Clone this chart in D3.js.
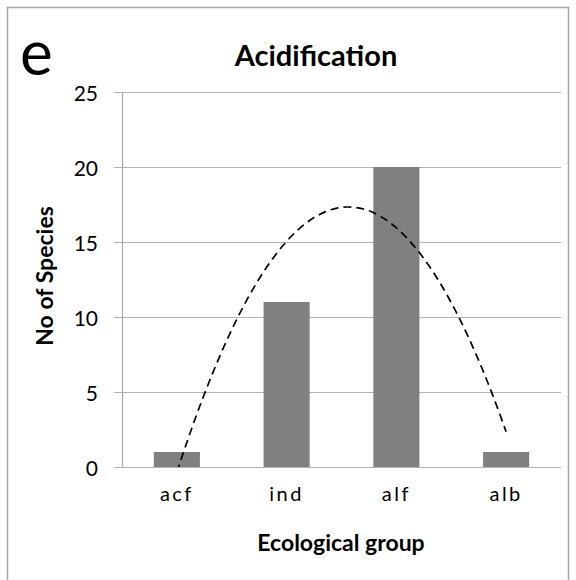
<!DOCTYPE html>
<html>
<head>
<meta charset="utf-8">
<script src="https://cdn.jsdelivr.net/npm/d3@7"></script>
<style>
  body { margin: 0; background: #fff; }
  text { font-family: Lato, "Open Sans", sans-serif; }
</style>
</head>
<body>
<div id="chart"></div>
<script>
let groups = ["acf", "ind", "alf", "alb"]
let species = [1, 11, 20, 1]
let yTicks = [0, 5, 10, 15, 20, 25]

let width = 576,
    height = 580,
    margin = { top: 92, right: 15, bottom: 113, left: 122 }

let svg = d3.select("#chart").append("svg")
  .attr("width", width)
  .attr("height", height)

// outer frame of the panel
svg.append("rect")
  .attr("x", 7.5).attr("y", 7.5)
  .attr("width", 561).attr("height", 620)
  .attr("fill", "none")
  .attr("stroke", "#a6a6a6")
  .attr("stroke-width", 1.5)

let x = d3.scaleBand()
  .domain(groups)
  .range([margin.left, width - margin.right])
  .paddingInner(0.58)
  .paddingOuter(0.29)

let y = d3.scaleLinear()
  .domain([0, 25])
  .range([height - margin.bottom, margin.top])

// gridlines (with the small tick stubs left of the axis)
svg.append("g")
  .selectAll("line")
  .data(yTicks)
  .enter().append("line")
  .attr("x1", margin.left - 8)
  .attr("x2", width - margin.right)
  .attr("y1", d => Math.round(y(d)) + 0.5)
  .attr("y2", d => Math.round(y(d)) + 0.5)
  .attr("stroke", "#b3b3b3")
  .attr("stroke-width", 1.2)

// y axis line
svg.append("line")
  .attr("x1", margin.left + 0.5).attr("x2", margin.left + 0.5)
  .attr("y1", y(25)).attr("y2", y(0))
  .attr("stroke", "#a6a6a6")
  .attr("stroke-width", 1.2)

// y tick labels
svg.append("g")
  .selectAll("text")
  .data(yTicks)
  .enter().append("text")
  .attr("x", margin.left - 24)
  .attr("y", d => y(d))
  .attr("dy", "0.45em")
  .attr("text-anchor", "end")
  .attr("font-size", 21)
  .attr("fill", "#000")
  .text(d => d)

// bars
svg.append("g")
  .selectAll("rect")
  .data(groups)
  .enter().append("rect")
  .attr("x", d => x(d))
  .attr("width", x.bandwidth())
  .attr("y", (d, i) => y(species[i]))
  .attr("height", (d, i) => y(0) - y(species[i]))
  .attr("fill", "#808080")

// x labels
svg.append("g")
  .selectAll("text")
  .data(groups)
  .enter().append("text")
  .attr("x", d => x(d) + x.bandwidth() / 2)
  .attr("y", 501)
  .attr("text-anchor", "middle")
  .attr("font-size", 20)
  .attr("letter-spacing", "2.5px")
  .text(d => d)

// polynomial (order 2) trendline, least squares fit of the bars
let xs = species.map((d, i) => i + 1)
let s = [0, 0, 0, 0, 0], t = [0, 0, 0]
xs.forEach((xv, i) => {
  for (let k = 0; k < 5; k++) s[k] += Math.pow(xv, k)
  for (let k = 0; k < 3; k++) t[k] += Math.pow(xv, k) * species[i]
})
let M = [[s[0], s[1], s[2], t[0]], [s[1], s[2], s[3], t[1]], [s[2], s[3], s[4], t[2]]]
for (let c = 0; c < 3; c++) {
  for (let r = c + 1; r < 3; r++) {
    let f = M[r][c] / M[c][c]
    for (let k = c; k < 4; k++) M[r][k] -= f * M[c][k]
  }
}
let coef = [0, 0, 0]
for (let r = 2; r >= 0; r--) {
  let v = M[r][3]
  for (let k = r + 1; k < 3; k++) v -= M[r][k] * coef[k]
  coef[r] = v / M[r][r]
}
let fit = xv => coef[0] + coef[1] * xv + coef[2] * xv * xv

let xPos = xv => x(groups[0]) + x.bandwidth() / 2 + (xv - 1) * x.step()
let pts = d3.range(1, 4.0001, 0.05).map(xv => [xPos(xv), y(fit(xv))])

svg.append("clipPath").attr("id", "plotclip")
  .append("rect")
  .attr("x", margin.left).attr("y", margin.top)
  .attr("width", width - margin.left - margin.right)
  .attr("height", y(0) - margin.top)

svg.append("path")
  .datum(pts)
  .attr("clip-path", "url(#plotclip)")
  .attr("d", d3.line().curve(d3.curveBasis))
  .attr("fill", "none")
  .attr("stroke", "#000")
  .attr("stroke-width", 1.7)
  .attr("stroke-dasharray", "8,5")

// titles
svg.append("text")
  .attr("x", 316).attr("y", 66)
  .attr("text-anchor", "middle")
  .attr("font-size", 29)
  .attr("font-weight", "bold")
  .text("Acidification")

svg.append("text")
  .attr("x", 20).attr("y", 75)
  .attr("font-size", 62)
  .text("e")

svg.append("text")
  .attr("x", 341).attr("y", 551)
  .attr("text-anchor", "middle")
  .attr("font-size", 23)
  .attr("font-weight", "bold")
  .text("Ecological group")

svg.append("text")
  .attr("transform", "translate(53," + 276 + ") rotate(-90)")
  .attr("text-anchor", "middle")
  .attr("font-size", 23)
  .attr("font-weight", "bold")
  .text("No of Species")
</script>
</body>
</html>
